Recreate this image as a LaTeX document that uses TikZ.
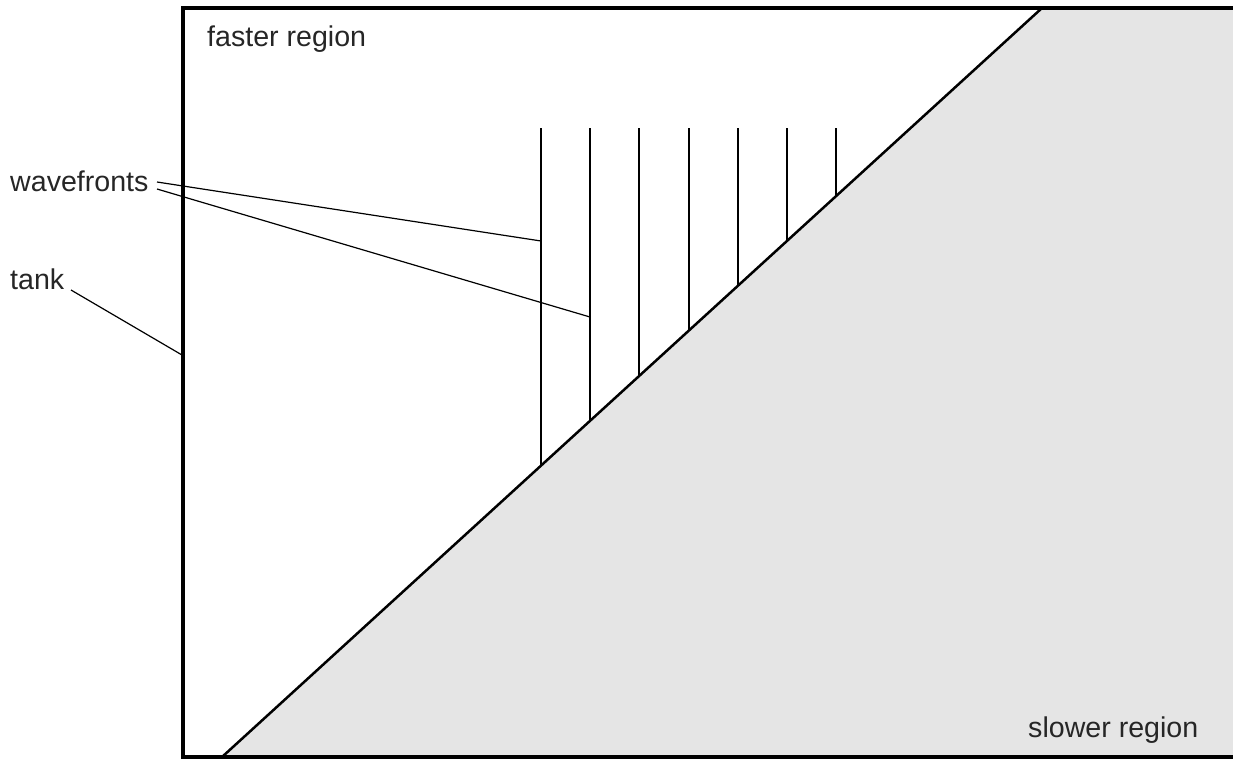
\documentclass[tikz,border=0pt]{standalone}
\usepackage{fontspec}
\setmainfont{Liberation Sans}
\begin{document}
\begin{tikzpicture}[x=1pt,y=-1pt,
  lbl/.style={font=\fontsize{28.6}{34}\selectfont, text=black!85, inner sep=0pt},
  wave/.style={line width=2pt},
  leader/.style={line width=1.2pt}]
\useasboundingbox (0,0) rectangle (1233,758);
% slower region fill
\fill[black!10] (1042,8) -- (1236,8) -- (1236,757) -- (222,757) -- cycle;
% diagonal boundary
\coordinate (dtop) at (1042,8);
\coordinate (dbot) at (222,757);
\draw[line width=2.5pt] (dbot) -- (dtop);
% tank
\draw[line width=3.2pt] (183,8) rectangle (1235.5,757);
% wavefronts
\foreach \i in {0,...,6} {
  \pgfmathsetmacro{\xx}{541+49.2*\i}
  \pgfmathsetmacro{\yy}{757-(\xx-222)*0.91340}
  \coordinate (wt\i) at (\xx,128);
  \coordinate (wb\i) at (\xx,\yy);
  \draw[wave] (wt\i) -- (wb\i);
}
% labels
\node[lbl, anchor=base west] (faster) at (207,46) {faster region};
\node[lbl, anchor=base west] (slower) at (1028,737) {slower region};
\node[lbl, anchor=base west] (wf) at (10,191) {wavefronts};
\node[lbl, anchor=base west] (tank) at (10,289) {tank};
% leaders
\coordinate (wfa) at (157,182);
\coordinate (wfb) at (157,189);
\coordinate (w1) at (541,241);
\coordinate (w2) at (590,317);
\coordinate (tka) at (71,290);
\coordinate (tkb) at (182,355);
\draw[leader] (wfa) -- (w1);
\draw[leader] (wfb) -- (w2);
\draw[leader] (tka) -- (tkb);
\end{tikzpicture}
\end{document}
